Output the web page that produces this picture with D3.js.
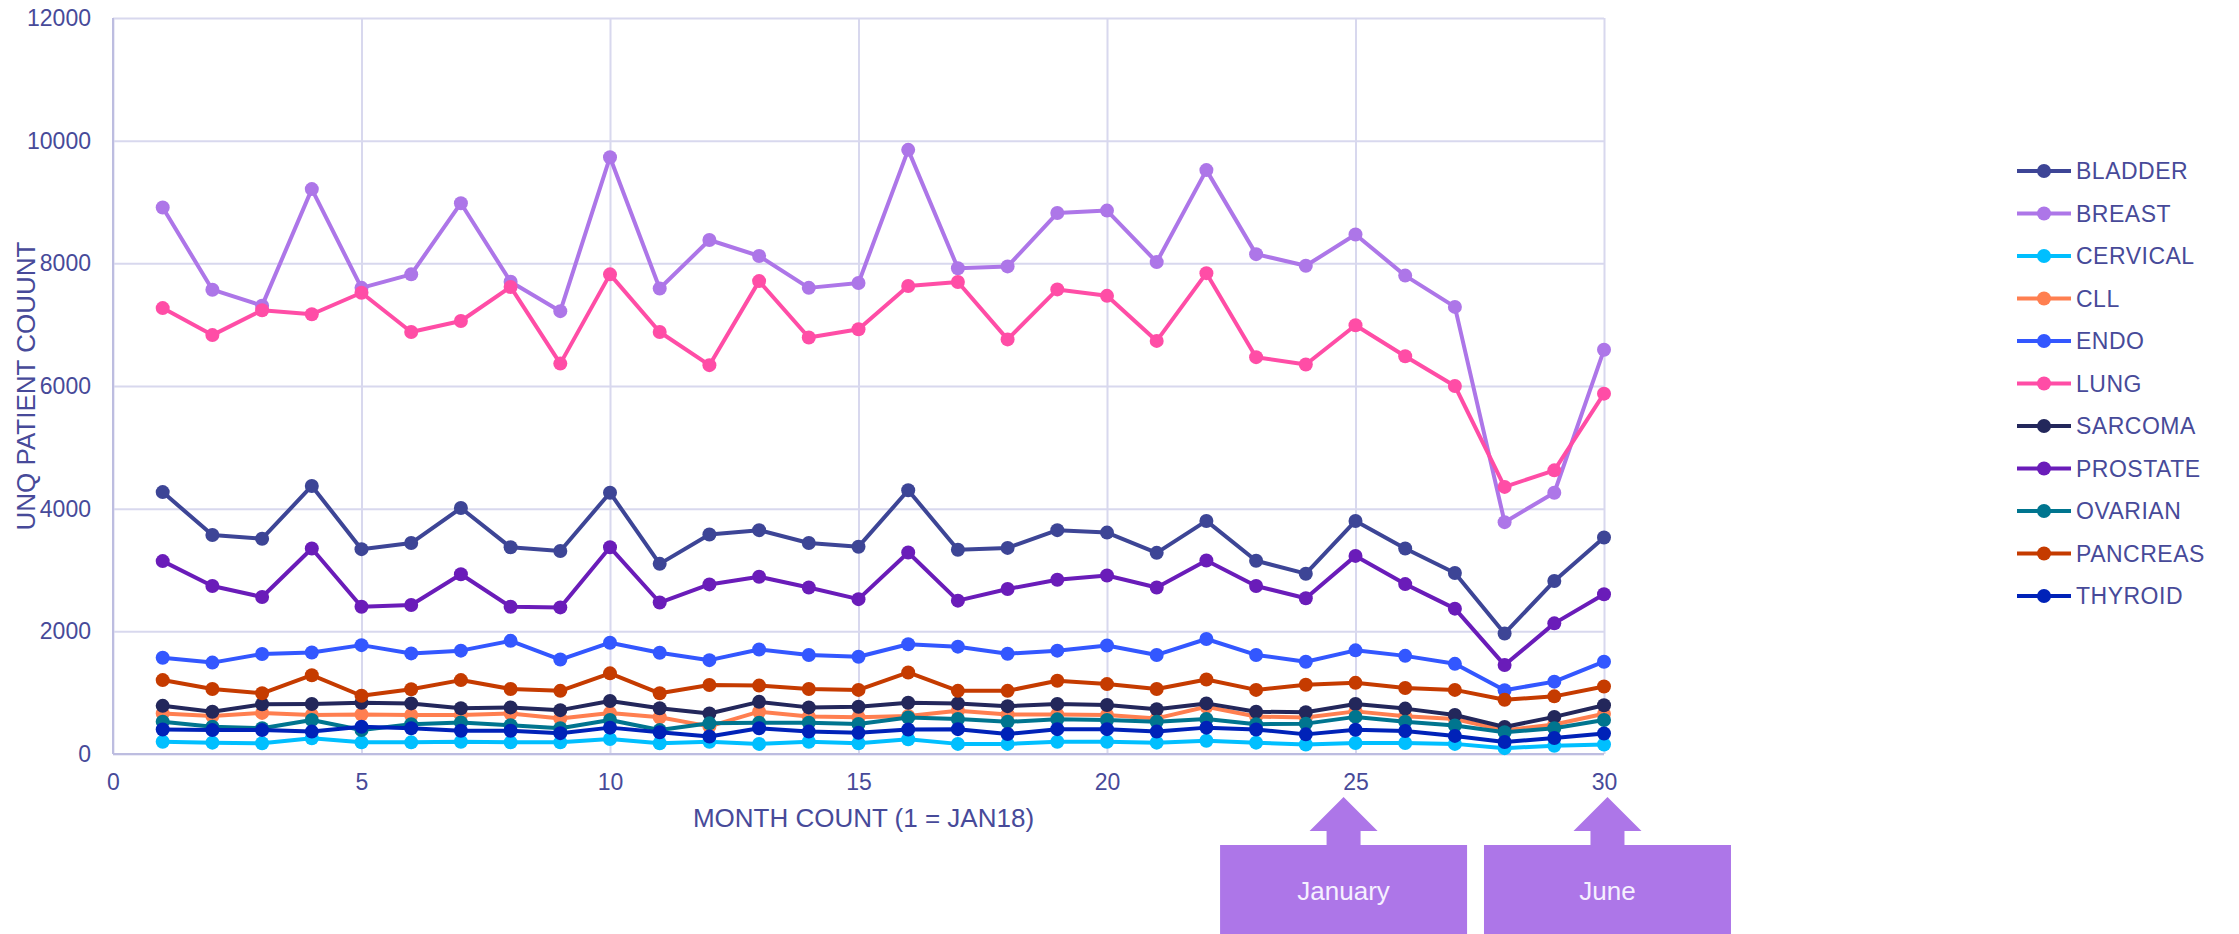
<!DOCTYPE html>
<html>
<head>
<meta charset="utf-8">
<script src="https://cdn.jsdelivr.net/npm/d3@7"></script>
<style>
  body { margin: 0; background: #fff; }
  text { font-family: "Liberation Sans", Arial, sans-serif; }
</style>
</head>
<body>
<div id="theGraph"></div>
<script>
// month index, 1 = JAN18
var months = [1, 2, 3, 4, 5, 6, 7, 8, 9, 10, 11, 12, 13, 14, 15, 16, 17, 18, 19, 20, 21, 22, 23, 24, 25, 26, 27, 28, 29, 30];

var bladder  = [4270, 3570, 3510, 4370, 3340, 3440, 4010, 3370, 3310, 4260, 3100, 3580, 3650, 3440, 3380, 4300, 3330, 3360, 3650, 3610, 3280, 3800, 3150, 2940, 3800, 3350, 2950, 1965, 2820, 3530];
var breast   = [8910, 7570, 7310, 9210, 7600, 7820, 8980, 7700, 7220, 9730, 7590, 8380, 8120, 7600, 7680, 9850, 7920, 7950, 8820, 8860, 8020, 9520, 8150, 7960, 8470, 7800, 7290, 3780, 4260, 6590];
var cervical = [200, 185, 175, 255, 190, 190, 200, 190, 190, 245, 175, 200, 165, 200, 175, 240, 165, 165, 200, 200, 185, 215, 185, 155, 180, 180, 165, 95, 135, 155];
var cll      = [660, 620, 670, 635, 645, 635, 635, 660, 580, 670, 600, 450, 690, 610, 600, 620, 705, 645, 645, 635, 580, 770, 610, 595, 695, 615, 570, 385, 480, 655];
var endo     = [1570, 1490, 1630, 1655, 1775, 1640, 1685, 1845, 1540, 1815, 1650, 1530, 1705, 1615, 1585, 1790, 1750, 1635, 1685, 1770, 1615, 1875, 1615, 1505, 1690, 1600, 1470, 1040, 1180, 1505];
var lung     = [7270, 6830, 7235, 7170, 7520, 6880, 7060, 7615, 6365, 7820, 6880, 6340, 7710, 6790, 6925, 7630, 7695, 6760, 7575, 7470, 6735, 7840, 6470, 6350, 6990, 6485, 6000, 4355, 4625, 5875];
var sarcoma  = [785, 690, 810, 815, 835, 825, 745, 760, 715, 865, 745, 660, 850, 760, 770, 835, 825, 780, 815, 800, 730, 825, 690, 680, 815, 740, 635, 440, 605, 795];
var prostate = [3145, 2740, 2560, 3350, 2400, 2430, 2930, 2400, 2390, 3370, 2470, 2765, 2890, 2715, 2525, 3285, 2500, 2690, 2840, 2910, 2715, 3155, 2740, 2540, 3230, 2770, 2370, 1450, 2130, 2605];
var ovarian  = [525, 445, 420, 555, 390, 485, 515, 470, 420, 555, 390, 500, 510, 510, 490, 595, 570, 525, 565, 555, 525, 570, 485, 495, 605, 525, 465, 355, 420, 555];
var pancreas = [1205, 1060, 990, 1285, 950, 1055, 1205, 1060, 1030, 1315, 990, 1125, 1115, 1060, 1045, 1330, 1030, 1030, 1195, 1140, 1060, 1215, 1045, 1130, 1160, 1075, 1045, 885, 940, 1100];
var thyroid  = [400, 390, 390, 365, 445, 420, 380, 380, 340, 430, 355, 285, 420, 365, 345, 400, 405, 325, 405, 405, 365, 430, 400, 320, 395, 375, 295, 195, 260, 335];

var seriesNames  = ["BLADDER", "BREAST", "CERVICAL", "CLL", "ENDO", "LUNG", "SARCOMA", "PROSTATE", "OVARIAN", "PANCREAS", "THYROID"];
var seriesValues = [bladder, breast, cervical, cll, endo, lung, sarcoma, prostate, ovarian, pancreas, thyroid];
var seriesColors = ["#3D4596", "#AD76E8", "#00BFFF", "#FF7F50", "#3357FF", "#FF4DA6", "#23275B", "#6A1CB9", "#00758F", "#C53B00", "#0022B8"];

var xTicks = [0, 5, 10, 15, 20, 25, 30];
var yTicks = [0, 2000, 4000, 6000, 8000, 10000, 12000];

// callout boxes under the x axis (arrow points at this month position)
var calloutLabels = ["January", "June"];
var calloutMonths = [24.76, 30.07];

const width = 2239, height = 934,
    margin = {left: 113, top: 18, right: 635, bottom: 180},
    contentWidth = width - margin.left - margin.right,
    contentHeight = height - margin.top - margin.bottom;

const textColor = "#474A99",
    gridColor = "#D8D8EE",
    axisColor = "#BDBDE0",
    boxColor = "#AD76E8";

const svg = d3.select("#theGraph")
            .append("svg")
                .attr("width", width)
                .attr("height", height);

const xScale = d3.scaleLinear().domain([0, 30]).range([0, contentWidth]);
const yScale = d3.scaleLinear().domain([0, 12000]).range([contentHeight, 0]);

const chart = svg.append("g")
    .attr("transform", `translate(${margin.left}, ${margin.top})`);

// grid + axes
const yAxis = chart.append("g")
    .call(d3.axisLeft(yScale).tickValues(yTicks).tickSize(-contentWidth).tickPadding(22).tickFormat(d3.format("d")));
yAxis.select(".domain").remove();
yAxis.selectAll(".tick line").attr("stroke", gridColor).attr("stroke-width", 2);
yAxis.selectAll(".tick text").attr("fill", textColor).style("font-size", "23px");

const xAxis = chart.append("g")
    .attr("transform", `translate(0, ${contentHeight})`)
    .call(d3.axisBottom(xScale).tickValues(xTicks).tickSize(-contentHeight).tickPadding(20).tickFormat(d3.format("d")));
xAxis.select(".domain").remove();
xAxis.selectAll(".tick line").attr("stroke", gridColor).attr("stroke-width", 2);
xAxis.selectAll(".tick text").attr("fill", textColor).style("font-size", "23px");

chart.append("line")
    .attr("x1", 0).attr("x2", 0).attr("y1", 0).attr("y2", contentHeight)
    .attr("stroke", axisColor).attr("stroke-width", 2);
chart.append("line")
    .attr("x1", 0).attr("x2", contentWidth).attr("y1", contentHeight).attr("y2", contentHeight)
    .attr("stroke", axisColor).attr("stroke-width", 2);

// axis titles
svg.append("text")
    .attr("x", margin.left + xScale(15.1))
    .attr("y", 827)
    .attr("text-anchor", "middle")
    .attr("fill", textColor)
    .style("font-size", "26px")
    .text("MONTH COUNT (1 = JAN18)");

svg.append("text")
    .attr("transform", "translate(35, 386) rotate(-90)")
    .attr("text-anchor", "middle")
    .attr("fill", textColor)
    .style("font-size", "26px")
    .text("UNQ PATIENT COUUNT");

// series lines + markers
const line = d3.line()
    .x((d, i) => xScale(months[i]))
    .y(d => yScale(d));

seriesValues.forEach(function(values, s) {
    const g = chart.append("g").attr("class", "series");
    g.append("path")
        .datum(values)
        .attr("d", line)
        .attr("fill", "none")
        .attr("stroke", seriesColors[s])
        .attr("stroke-width", 4)
        .attr("stroke-linejoin", "round");
    g.selectAll("circle")
        .data(values)
        .enter()
        .append("circle")
            .attr("cx", (d, i) => xScale(months[i]))
            .attr("cy", d => yScale(d))
            .attr("r", 7)
            .attr("fill", seriesColors[s]);
});

// legend
const legend = svg.append("g").attr("transform", "translate(2017, 171)");
seriesNames.forEach(function(name, i) {
    const row = legend.append("g").attr("transform", `translate(0, ${i * 42.5})`);
    row.append("line")
        .attr("x1", 0).attr("x2", 54)
        .attr("stroke", seriesColors[i]).attr("stroke-width", 4);
    row.append("circle")
        .attr("cx", 27).attr("r", 7)
        .attr("fill", seriesColors[i]);
    row.append("text")
        .attr("x", 59)
        .attr("dy", "0.35em")
        .attr("fill", textColor)
        .style("font-size", "23px")
        .style("letter-spacing", "0.5px")
        .text(name);
});

// callouts: box with an up arrow pointing at the month tick
const boxW = 247, boxTop = 845, boxBottom = 940;
calloutLabels.forEach(function(label, i) {
    const cx = margin.left + xScale(calloutMonths[i]);
    const g = svg.append("g");
    g.append("rect")
        .attr("x", cx - boxW / 2)
        .attr("y", boxTop)
        .attr("width", boxW)
        .attr("height", boxBottom - boxTop)
        .attr("fill", boxColor);
    g.append("path")
        .attr("d", `M${cx},797 L${cx + 34},831 L${cx + 17},831 L${cx + 17},${boxTop + 1}
                    L${cx - 17},${boxTop + 1} L${cx - 17},831 L${cx - 34},831 Z`)
        .attr("fill", boxColor);
    g.append("text")
        .attr("x", cx)
        .attr("y", 900)
        .attr("text-anchor", "middle")
        .attr("fill", "#F6F0FF")
        .style("font-size", "26px")
        .text(label);
});
</script>
</body>
</html>
